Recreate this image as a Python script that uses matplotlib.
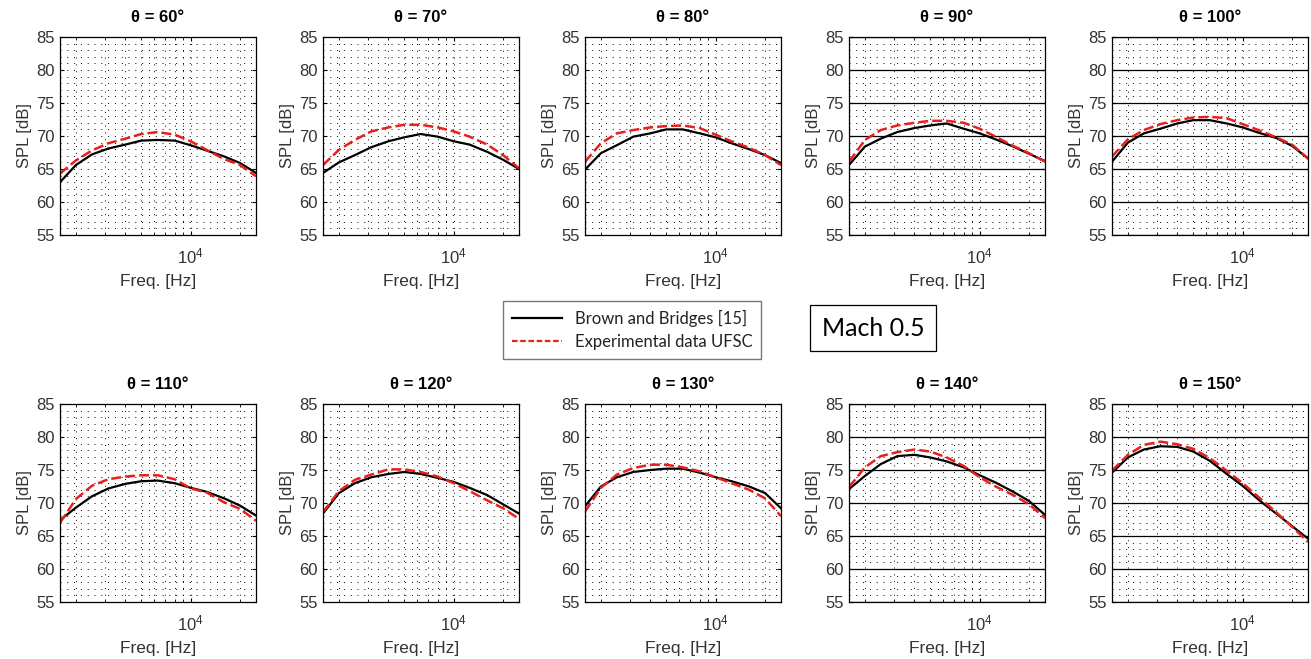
import numpy as np
import matplotlib
matplotlib.use('Agg')
import matplotlib.pyplot as plt
from matplotlib.ticker import FixedLocator, NullFormatter, LogLocator, MultipleLocator
from matplotlib.lines import Line2D

plt.rcParams['font.family'] = ['Liberation Sans', 'DejaVu Sans']

# one-third octave band centres [Hz]
freq = [1600, 2000, 2500, 3150, 4000, 5000, 6300, 8000, 10000, 12500, 16000, 20000, 25000]

angles = [60, 70, 80, 90, 100, 110, 120, 130, 140, 150]

# Brown and Bridges [15] (SPL, dB)
brown_060 = [63.0, 65.6, 67.2, 68.1, 68.7, 69.3, 69.4, 69.3, 68.6, 67.8, 66.9, 65.9, 64.4]
brown_070 = [64.4, 66.0, 67.1, 68.3, 69.2, 69.8, 70.3, 69.9, 69.2, 68.7, 67.6, 66.4, 65.0]
brown_080 = [64.9, 67.4, 68.6, 69.9, 70.4, 71.0, 71.0, 70.4, 69.8, 68.9, 68.0, 67.1, 65.9]
brown_090 = [65.6, 68.4, 69.6, 70.6, 71.2, 71.6, 71.9, 71.1, 70.4, 69.5, 68.4, 67.3, 66.2]
brown_100 = [66.1, 69.0, 70.4, 71.1, 71.9, 72.4, 72.4, 71.9, 71.3, 70.5, 69.7, 68.5, 66.6]
brown_110 = [67.4, 69.3, 71.0, 72.2, 72.9, 73.3, 73.4, 73.0, 72.3, 71.7, 70.7, 69.6, 68.1]
brown_120 = [68.4, 71.5, 73.0, 73.9, 74.4, 74.7, 74.4, 73.8, 73.2, 72.3, 71.2, 69.8, 68.4]
brown_130 = [69.5, 72.5, 73.9, 74.7, 75.0, 75.2, 75.2, 74.6, 73.9, 73.3, 72.5, 71.5, 69.2]
brown_140 = [72.1, 74.1, 75.9, 77.1, 77.3, 76.9, 76.3, 75.4, 74.2, 73.1, 71.7, 70.3, 68.2]
brown_150 = [74.6, 76.9, 78.1, 78.6, 78.5, 77.8, 76.4, 74.4, 72.6, 70.5, 68.4, 66.5, 64.6]

# Experimental data UFSC (SPL, dB)
ufsc_060 = [64.3, 66.3, 67.8, 68.9, 69.6, 70.3, 70.6, 70.2, 69.2, 67.9, 66.5, 65.6, 63.9]
ufsc_070 = [65.6, 67.9, 69.4, 70.7, 71.3, 71.7, 71.7, 71.3, 70.7, 69.9, 68.7, 67.1, 65.1]
ufsc_080 = [66.1, 68.9, 70.4, 70.9, 71.3, 71.5, 71.6, 71.2, 70.2, 69.2, 68.2, 67.1, 65.6]
ufsc_090 = [66.1, 69.4, 70.9, 71.6, 72.0, 72.3, 72.3, 72.0, 71.1, 69.9, 68.5, 67.4, 66.1]
ufsc_100 = [66.9, 69.5, 70.9, 71.8, 72.4, 72.8, 72.9, 72.7, 71.8, 70.9, 69.8, 68.7, 66.6]
ufsc_110 = [67.0, 70.6, 72.6, 73.6, 74.0, 74.2, 74.2, 73.6, 72.2, 71.6, 70.1, 69.1, 67.3]
ufsc_120 = [68.6, 71.8, 73.5, 74.3, 75.1, 75.1, 74.7, 74.0, 73.0, 71.8, 70.4, 69.2, 67.6]
ufsc_130 = [68.7, 72.3, 74.3, 75.3, 75.8, 75.8, 75.4, 74.8, 73.9, 73.0, 72.0, 70.7, 68.0]
ufsc_140 = [72.4, 75.4, 77.1, 77.7, 78.1, 77.8, 76.9, 75.6, 73.9, 72.5, 71.2, 69.8, 67.7]
ufsc_150 = [74.9, 77.3, 78.8, 79.3, 78.9, 78.2, 76.8, 74.9, 73.0, 70.9, 68.6, 66.4, 64.1]

brown = [brown_060, brown_070, brown_080, brown_090, brown_100,
         brown_110, brown_120, brown_130, brown_140, brown_150]
ufsc = [ufsc_060, ufsc_070, ufsc_080, ufsc_090, ufsc_100,
        ufsc_110, ufsc_120, ufsc_130, ufsc_140, ufsc_150]

W, H = 1311, 659
fig = plt.figure(figsize=(W / 100, H / 100), dpi=100)

col_left = [60, 323, 585, 849, 1112]
row_top = [37, 404]
aw, ah = 196, 198
txt_grey = '#333333'
dotted = (0, (1, 6))

for k, ang in enumerate(angles):
    r, c = divmod(k, 5)
    x0, y0 = col_left[c], row_top[r]
    ax = fig.add_axes([x0 / W, (H - y0 - ah) / H, aw / W, ah / H])

    ax.plot(freq, brown[k], color='black', lw=1.6)
    ax.plot(freq, ufsc[k], color='#e8201c', lw=1.8, dashes=(4, 1.6))

    ax.set_xscale('log')
    ax.set_xlim(1600, 25000)
    ax.set_ylim(55, 85)
    ax.yaxis.set_major_locator(FixedLocator([55, 60, 65, 70, 75, 80, 85]))
    ax.yaxis.set_minor_locator(MultipleLocator(1))
    ax.xaxis.set_major_locator(FixedLocator([1e4]))
    ax.xaxis.set_minor_locator(LogLocator(base=10, subs=np.arange(2, 10)))
    ax.xaxis.set_minor_formatter(NullFormatter())

    # MATLAB-like grid
    ax.grid(True, which='minor', axis='both', color='black', lw=0.7, ls=dotted)
    ax.grid(True, which='major', axis='x', color='black', lw=0.7, ls=dotted)
    if c >= 3:
        ax.grid(True, which='major', axis='y', color='black', lw=0.9, ls='-')
    else:
        ax.grid(True, which='major', axis='y', color='black', lw=0.7, ls=dotted)
    ax.set_axisbelow(True)

    ax.tick_params(which='both', direction='in', top=True, right=True,
                   labelsize=12, colors='black', labelcolor=txt_grey)
    ax.tick_params(which='major', length=3)
    ax.tick_params(axis='x', which='minor', length=2)
    ax.tick_params(axis='y', which='minor', length=0)
    ax.tick_params(axis='x', pad=8)
    ax.tick_params(axis='y', pad=4)
    for s in ax.spines.values():
        s.set_linewidth(0.9)

    ax.set_xlabel('Freq. [Hz]', fontsize=12.5, color=txt_grey, labelpad=6)
    ax.set_ylabel('SPL [dB]', fontsize=12, color=txt_grey, labelpad=3)
    ax.set_title(f'θ = {ang}°', fontsize=12, fontweight='bold', pad=11)

handles = [Line2D([], [], color='black', lw=1.6),
           Line2D([], [], color='#e8201c', lw=1.6, dashes=(2.5, 1.2))]
fig.legend(handles, ['Brown and Bridges [15]', 'Experimental data UFSC'],
           loc='center', bbox_to_anchor=(632 / W, 1 - 330 / H),
           prop={'family': 'Lato', 'size': 12}, handlelength=3.0,
           frameon=True, fancybox=False, edgecolor='#555555',
           borderpad=0.5, labelspacing=0.45, handletextpad=0.8,
           labelcolor='#222222')

fig.text(873 / W, 1 - 328 / H, 'Mach 0.5', ha='center', va='center',
         fontsize=18, family='Lato',
         bbox=dict(boxstyle='square,pad=0.45', fc='white', ec='black', lw=0.9))

fig.savefig('out.png', dpi=100)
